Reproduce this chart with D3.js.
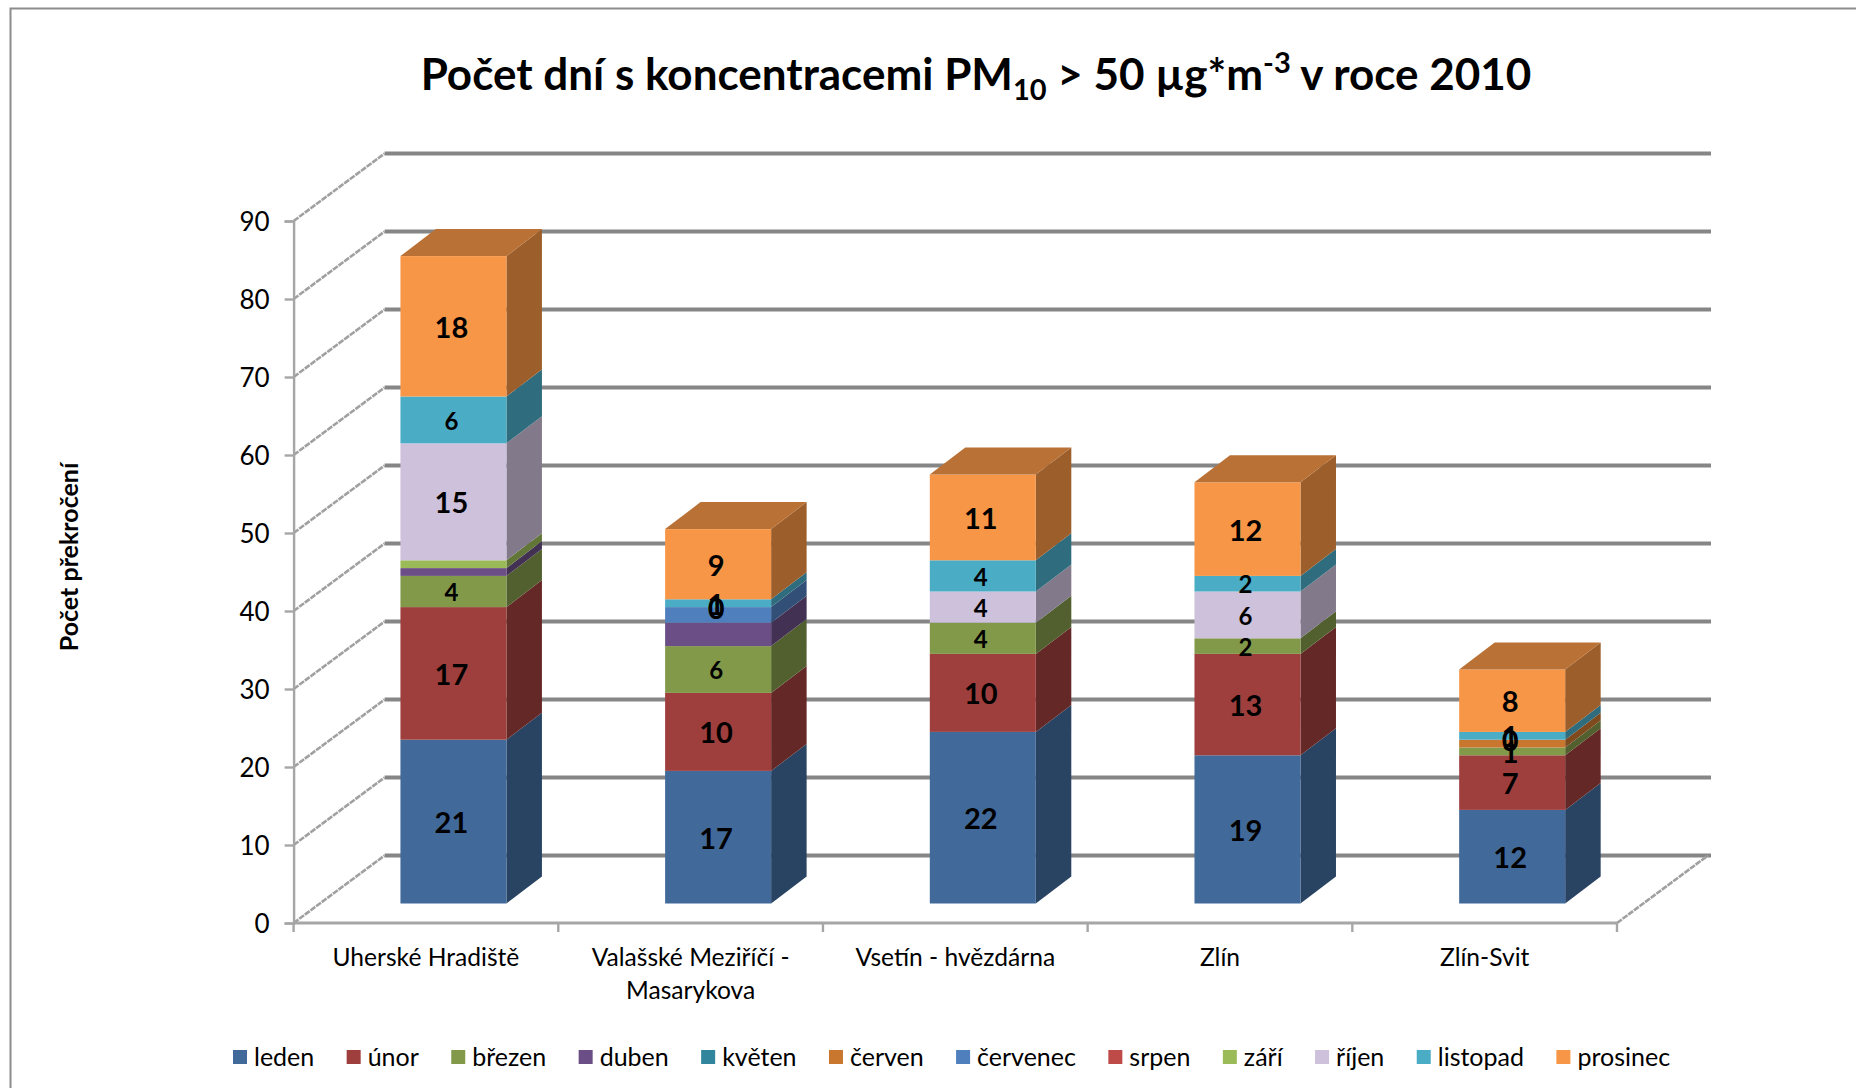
<!DOCTYPE html>
<html><head><meta charset="utf-8">
<script src="https://cdn.jsdelivr.net/npm/d3@7"></script>
<style>
html,body{margin:0;padding:0;background:#fff}
svg{display:block}
text{font-family:Lato,Carlito,sans-serif;fill:#000}
</style></head><body><svg id="c" width="1856" height="1088"></svg>
<script>
const categories=["Uherské Hradiště","Valašské Meziříčí - Masarykova","Vsetín - hvězdárna","Zlín","Zlín-Svit"];
const months=["leden","únor","březen","duben","květen","červen","červenec","srpen","září","říjen","listopad","prosinec"];
const leden=[21,17,22,19,12];
const unor=[17,10,10,13,7];
const brezen=[4,6,4,2,1];
const duben=[1,3,0,0,0];
const kveten=[0,0,0,0,0];
const cerven=[0,0,0,0,1];
const cervenec=[0,2,0,0,0];
const srpen=[0,0,0,0,0];
const zari=[1,0,0,0,0];
const rijen=[15,0,4,6,0];
const listopad=[6,1,4,2,1];
const prosinec=[18,9,11,12,8];
const seriesValues=[leden,unor,brezen,duben,kveten,cerven,cervenec,srpen,zari,rijen,listopad,prosinec];
const labelledMonths=["leden","únor","březen","říjen","listopad","prosinec"];
const colors=["#416A9B","#9E3F3D","#82994A","#6A4E85","#31859C","#C9772F","#4F7FBD","#BE4B48","#9BBB59","#CEC1DB","#4BACC6","#F79646"];
const yTicks=[0,10,20,30,40,50,60,70,80,90];
const titleParts=[["Počet dní s koncentracemi PM",0],["10",1],[" > 50 µg*m",0],["-3",-1],[" v roce 2010",0]];
const yAxisTitle="Počet překročení";

const svg=d3.select("#c");
const x=d3.scaleBand().domain(categories).range([293.6,1617]);
const y=d3.scaleLinear().domain([0,90]).range([923,221]);
const wallDx=91,wallDy=-67.5;
const barW=106,sideDx=35.5,sideDy=-27,baseDx=27.5,baseDy=-19.5;

// frame
svg.append("path").attr("d","M10.5,1088V8.5H1856").attr("fill","none").attr("stroke","#8c8c8c").attr("stroke-width",2);

// title
const title=svg.append("text").attr("x",976).attr("y",90).attr("text-anchor","middle")
  .attr("font-size",44).attr("font-weight",700);
titleParts.forEach(([t,s])=>{
  const ts=title.append("tspan").text(t);
  if(s===1) ts.attr("font-size",29).attr("dy",10);
  else if(s===-1) ts.attr("font-size",29).attr("dy",-17);
  else ts.attr("dy",t.startsWith(" > ")?-10:(t.startsWith(" v ")?17:0));
});

// walls
const grid=svg.append("g");
yTicks.forEach(t=>{
  grid.append("line").attr("x1",293.6+wallDx).attr("x2",1617+wallDx+3)
    .attr("y1",y(t)+wallDy).attr("y2",y(t)+wallDy).attr("stroke","#868686").attr("stroke-width",3.8);
  grid.append("line").attr("x1",293.6).attr("x2",293.6+wallDx)
    .attr("y1",y(t)).attr("y2",y(t)+wallDy).attr("stroke","#a0a0a0").attr("stroke-width",2.6).attr("stroke-dasharray","6 1");
});
grid.append("line").attr("x1",1617).attr("x2",1617+wallDx).attr("y1",y(0)).attr("y2",y(0)+wallDy)
  .attr("stroke","#a0a0a0").attr("stroke-width",2.6).attr("stroke-dasharray","6 1");

// axes
const yAxis=d3.axisLeft(y).tickValues(yTicks).tickSize(9).tickPadding(15);
const gy=svg.append("g").attr("transform","translate(293.6,0)").call(yAxis);
gy.selectAll("line,path").attr("stroke","#a6a6a6").attr("stroke-width",2.4);
gy.selectAll("text").attr("font-size",26).attr("font-family","Lato").attr("fill","#000").attr("dy","0.36em");

const gx=svg.append("g");
gx.append("line").attr("x1",293.6).attr("x2",1617).attr("y1",y(0)).attr("y2",y(0)).attr("stroke","#a6a6a6").attr("stroke-width",2.8);
const edges=categories.map(c=>x(c)).concat([x.range()[1]]);
gx.selectAll(".t").data(edges).join("line").attr("x1",d=>d).attr("x2",d=>d).attr("y1",y(0)).attr("y2",y(0)+9)
  .attr("stroke","#a6a6a6").attr("stroke-width",2.4);
const wrapped={"Valašské Meziříčí - Masarykova":["Valašské Meziříčí -","Masarykova"]};
categories.forEach(c=>{
  (wrapped[c]||[c]).forEach((ln,i)=>{
    gx.append("text").attr("x",x(c)+x.bandwidth()/2).attr("y",966+i*33).attr("text-anchor","middle")
      .attr("font-size",24.6).text(ln);
  });
});

// y title
svg.append("text").attr("transform","translate(78,557) rotate(-90)").attr("text-anchor","middle")
  .attr("font-size",25).attr("font-weight",700).text(yAxisTitle);

// stacks
const table=categories.map((c,i)=>{const o={cat:c};months.forEach((m,k)=>o[m]=seriesValues[k][i]);return o;});
const stacked=d3.stack().keys(months)(table);
const shade=(c,k)=>{const r=d3.rgb(c);return d3.rgb(r.r*k,r.g*k,r.b*k).formatHex();};
const bars=svg.append("g");
categories.forEach((c,i)=>{
  const g=bars.append("g");
  const bx=x(c)+x.bandwidth()/2+baseDx-barW/2;
  stacked.forEach((s,k)=>{
    const [a,b]=s[i];
    if(b===a) return;
    const y0=y(a)+baseDy,y1=y(b)+baseDy,xr=bx+barW;
    g.append("path").attr("d",`M${xr},${y0}L${xr+sideDx},${y0+sideDy}L${xr+sideDx},${y1+sideDy}L${xr},${y1}Z`)
      .attr("fill",shade(colors[k],0.63));
    g.append("rect").attr("x",bx).attr("y",y1).attr("width",barW).attr("height",y0-y1).attr("fill",colors[k]);
  });
  const tot=d3.sum(seriesValues,v=>v[i]);
  const yt=y(tot)+baseDy;
  g.append("path").attr("d",`M${bx},${yt}L${bx+sideDx},${yt+sideDy}L${bx+barW+sideDx},${yt+sideDy}L${bx+barW},${yt}Z`)
    .attr("fill",shade(colors[11],0.75));
});
// labels on top of all bars
categories.forEach((c,i)=>{
  const bx=x(c)+x.bandwidth()/2+baseDx-2;
  stacked.forEach((s,k)=>{
    if(!labelledMonths.includes(months[k])) return;
    const [a,b]=s[i],v=b-a;
    if(v===0 && i!==1 && i!==4) return;
    bars.append("text").attr("x",bx).attr("y",y((a+b)/2)+baseDy+1).attr("dy","0.36em").attr("text-anchor","middle")
      .attr("font-weight",700).attr("font-size",v>=2&&v<=6?24:29).text(v);
  });
});

// legend
const lg=svg.append("g");
let lx=233;
months.forEach((m,k)=>{
  lg.append("rect").attr("x",lx).attr("y",1050).attr("width",14).attr("height",14).attr("fill",colors[k]);
  const t=lg.append("text").attr("x",lx+21).attr("y",1066).attr("font-size",25).text(m);
  lx+=21+t.node().getComputedTextLength()+32.4;
});
</script></body></html>
